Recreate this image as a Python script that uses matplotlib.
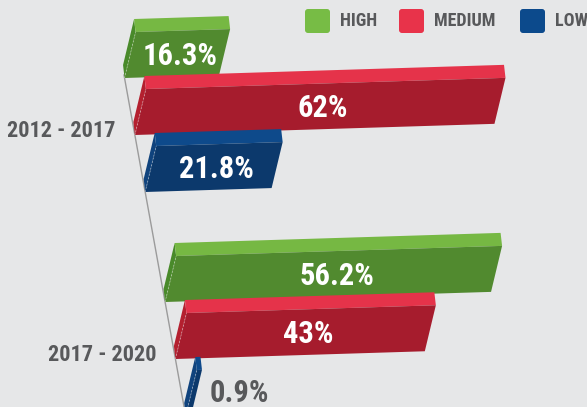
"""
Oblique 3D horizontal bars: share of HIGH / MEDIUM / LOW per period.
Bars are plain Rectangles pushed through a per-bar affine skew so they
sit on a slanted baseline, with a lighter top face and a thin side face.
"""
import numpy as np
import matplotlib

matplotlib.use("Agg")
import matplotlib.pyplot as plt
from matplotlib.patches import Rectangle, FancyBboxPatch
from matplotlib.transforms import Affine2D

periods = ["2012 - 2017", "2017 - 2020"]
levels = ["HIGH", "MEDIUM", "LOW"]
high = [16.3, 56.2]
medium = [62, 43]
low = [21.8, 0.9]

BG = "#e6e7e8"
TEXT_GREY = "#58595b"
AXIS_GREY = "#9b9b9b"
FACES = {
    "HIGH": {"front": "#518a2f", "top": "#76b843", "side": "#498a2a", "key": "#77bc45"},
    "MEDIUM": {"front": "#a61c2d", "top": "#e5334a", "side": "#b4202f", "key": "#e8334a"},
    "LOW": {"front": "#0c396c", "top": "#0e4a8b", "side": "#10437d", "key": "#0c4a8c"},
}
FONT = ["Roboto Condensed", "Barlow Condensed", "DejaVu Sans"]

# projection, in pixels
RUN = np.array([5.8, -0.18])     # one percent along a bar
LEAN = np.array([0.24, -1.0])    # one pixel of bar height
DEPTH = np.array([-1.5, -13.0])  # box depth
BAR_H = 46
AXIS_X0, AXIS_Y0, AXIS_SLOPE = 124, 75, 0.181
FIRST_Y, ROW_STEP, GROUP_STEP = 78, 57, 224


def base_corner(y):
    return np.array([AXIS_X0 + AXIS_SLOPE * (y - AXIS_Y0), y])


def frame(u, w, origin):
    return Affine2D.from_values(u[0], u[1], w[0], w[1], origin[0], origin[1])


def draw_bar(ax, value, bottom_y, colors, label):
    bl = base_corner(bottom_y)
    up = LEAN * BAR_H
    tl = bl + up
    front = frame(RUN, up, bl)
    top = frame(RUN, DEPTH, tl)
    side = frame(up, DEPTH, bl)

    ax.add_patch(Rectangle((0, 0), 1, 1, transform=side + ax.transData,
                           facecolor=colors["side"], lw=0, zorder=2))
    ax.add_patch(Rectangle((0, 0), value, 1, transform=top + ax.transData,
                           facecolor=colors["top"], lw=0, zorder=2))
    ax.add_patch(Rectangle((0, 0), value, 1, transform=front + ax.transData,
                           facecolor=colors["front"], lw=0, zorder=2))
    ax.plot([0, 0], [0, 1], transform=front + ax.transData, color="white",
            alpha=0.45, lw=0.6, ls=(0, (2, 2)), zorder=3)

    if value >= 5:
        cx, cy = front.transform((value / 2, 0.5))
        ax.text(cx + 3, cy + 2, label, color="white", fontsize=22, weight="bold",
                family=FONT, ha="center", va="center", zorder=4)
    else:
        ex, ey = front.transform((value, 0.5))
        ax.text(ex + 13, ey, label, color=TEXT_GREY, fontsize=22, weight="bold",
                family=FONT, ha="left", va="center", zorder=4)
    return bl


def main():
    fig = plt.figure(figsize=(5.87, 4.07), dpi=100)
    fig.patch.set_facecolor(BG)
    ax = fig.add_axes([0, 0, 1, 1])
    ax.set_facecolor(BG)
    ax.set_xlim(0, 587)
    ax.set_ylim(407, 0)
    ax.axis("off")

    series = {"HIGH": high, "MEDIUM": medium, "LOW": low}

    # slanted baseline through every bar's bottom-left corner
    y_end = 420
    ax.plot([AXIS_X0, base_corner(y_end)[0]], [AXIS_Y0, y_end], color=AXIS_GREY,
            lw=1.0, zorder=1)

    for g, period in enumerate(periods):
        mid_corner = None
        for r, level in enumerate(levels):
            v = series[level][g]
            bottom = FIRST_Y + g * GROUP_STEP + r * ROW_STEP
            bl = draw_bar(ax, v, bottom, FACES[level], f"{v:g}%")
            if r == 1:
                mid_corner = bl
        ax.text(mid_corner[0] - 19, mid_corner[1] - 4, period, color=TEXT_GREY,
                fontsize=16, weight="bold", family=FONT, ha="right", va="center")

    # legend, top right
    for level, x in zip(levels, [305, 399, 520]):
        ax.add_patch(FancyBboxPatch((x + 3, 12), 19, 18,
                                    boxstyle="round,pad=3", facecolor=FACES[level]["key"],
                                    lw=0, zorder=5))
        ax.text(x + 35, 21.5, level, color=TEXT_GREY, fontsize=13, weight="bold",
                family=FONT, ha="left", va="center", zorder=5)

    fig.savefig("out.png", dpi=100, facecolor=BG)


if __name__ == "__main__":
    main()
